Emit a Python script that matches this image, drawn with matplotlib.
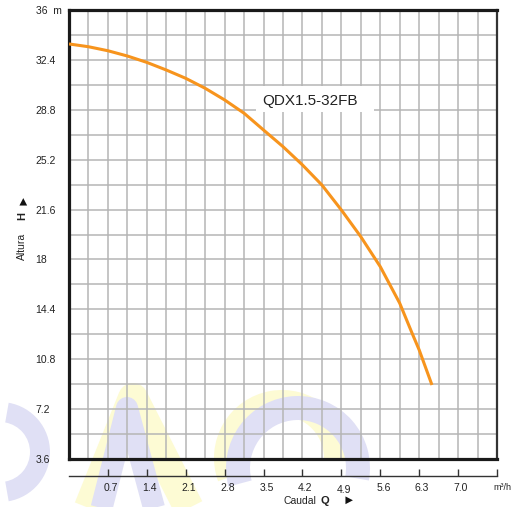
"""Pump curve QDX1.5-32FB, altura vs caudal."""
import matplotlib

matplotlib.use("Agg")
import matplotlib.pyplot as plt  # noqa: E402
import numpy as np  # noqa: E402
from matplotlib.lines import Line2D  # noqa: E402
from matplotlib.patches import Rectangle, Wedge  # noqa: E402
from matplotlib.transforms import IdentityTransform, ScaledTranslation  # noqa: E402


# curve (crossings of the vertical grid lines)
caudal = [0.0, 0.35, 0.70, 1.05, 1.40, 1.75, 2.10, 2.45, 2.80, 3.15, 3.50,
          3.85, 4.20, 4.55, 4.90, 5.25, 5.60, 5.95, 6.17, 6.30, 6.53]
altura = [33.55, 33.35, 33.06, 32.68, 32.22, 31.67, 31.07, 30.35, 29.51, 28.55, 27.34,
          26.14, 24.82, 23.37, 21.57, 19.64, 17.48, 14.84, 12.70, 11.47, 8.94]

model_name = "QDX1.5-32FB"
y_ticks = [3.6, 7.2, 10.8, 14.4, 18, 21.6, 25.2, 28.8, 32.4, 36]
y_labels = ["3.6", "7.2", "10.8", "14.4", "18", "21.6", "25.2", "28.8", "32.4", "36  m"]
x_ticks = [0.7, 1.4, 2.1, 2.8, 3.5, 4.2, 4.9, 5.6, 6.3, 7.0, 7.7]
x_labels = ["0.7", "1.4", "2.1", "2.8", "3.5", "4.2", "4.9", "5.6", "6.3", "7.0", "m³/h"]

FONT = ["Liberation Sans", "DejaVu Sans"]
plt.rcParams["font.family"] = FONT

W, H = 516, 507
fig = plt.figure(figsize=(W / 100, H / 100), dpi=100)


def fx(px):
    return px / W


def fy(py):
    return 1 - py / H


# faint logo watermark behind the chart, drawn in output pixels
BLUE_WM = "#e0e0f5"
YELLOW_WM = "#fdfbd4"
PIX = IdentityTransform()


def wm_stroke(points, color, width_px):
    xs = [p[0] for p in points]
    ys = [H - p[1] for p in points]
    fig.add_artist(Line2D(xs, ys, color=color, lw=width_px * 0.72, transform=PIX,
                          zorder=-2, solid_joinstyle="round", solid_capstyle="butt"))


def wm_arc(cx, cy, r, t1, t2, width_px, color):
    fig.add_artist(Wedge((cx, H - cy), r, t1, t2, width=width_px, color=color,
                         transform=PIX, zorder=-2, lw=0))


# A
wm_stroke([(80, 530), (133, 398), (200, 530)], YELLOW_WM, 30)
wm_stroke([(96, 530), (127, 408), (160, 530)], BLUE_WM, 22)
# S-like arc
wm_arc(282, 458, 68, 0, 200, 26, YELLOW_WM)
wm_arc(298, 468, 72, -10, 195, 24, BLUE_WM)
# R bowl at the left edge
wm_arc(0, 452, 50, -80, 80, 20, BLUE_WM)

ax = fig.add_axes([fx(69), fy(459), fx(497) - fx(69), fy(10) - fy(459)])
ax.set_facecolor("none")
ax.set_xlim(0, 7.7)
ax.set_ylim(3.6, 36)

# grid
for q in np.arange(0.35, 7.7, 0.35):
    ax.axvline(q, color="#b5b5b5", lw=1.1, zorder=1)
for h in np.arange(3.6 + 1.8, 36, 1.8):
    ax.axhline(h, color="#b5b5b5", lw=1.1, zorder=1)

# label box
ax.add_patch(Rectangle((3.36, 28.62), 2.12, 1.9, facecolor="white",
                       edgecolor="none", zorder=2))
ax.text(3.47, 29.45, model_name, fontsize=11, color="#222222",
        va="center", ha="left", zorder=3)

ax.plot(caudal, altura, color="#f7941d", lw=2.2, zorder=4,
        solid_capstyle="butt", solid_joinstyle="round")

for side in ("left", "bottom", "top"):
    ax.spines[side].set_linewidth(2.3)
    ax.spines[side].set_color("#1a1a1a")
ax.spines["right"].set_linewidth(1.6)
ax.spines["right"].set_color("#333333")

ax.set_xticks([])
ax.set_yticks(y_ticks)
ax.set_yticklabels(y_labels, fontsize=7.5, color="#222222")
ax.tick_params(axis="y", length=0, pad=24)
for lbl in ax.get_yticklabels():
    lbl.set_horizontalalignment("left")

# separate flow axis below the box
axq = fig.add_axes([fx(69), fy(476), fx(497) - fx(69), 0.0001])
axq.set_facecolor("none")
axq.set_xlim(0, 7.7)
axq.set_ylim(0, 1)
for side in ("left", "right", "top"):
    axq.spines[side].set_visible(False)
axq.spines["bottom"].set_linewidth(1.0)
axq.spines["bottom"].set_color("#333333")
axq.set_yticks([])
axq.set_xticks(x_ticks)
axq.set_xticklabels(x_labels, fontsize=7.5, color="#222222")
axq.tick_params(axis="x", direction="in", length=5, width=1.0, color="#333333", pad=5)
shift = ScaledTranslation(3 / 100, 0, fig.dpi_scale_trans)
for lbl in axq.get_xticklabels():
    if lbl.get_text() == "4.9":
        lbl.set_transform(lbl.get_transform() + ScaledTranslation(3 / 100, -2 / 100, fig.dpi_scale_trans))
    elif lbl.get_text() == "m³/h":
        lbl.set_fontsize(6.5)
        lbl.set_transform(lbl.get_transform() + ScaledTranslation(5 / 100, 0, fig.dpi_scale_trans))
    else:
        lbl.set_transform(lbl.get_transform() + shift)

# axis titles
fig.text(fx(22), fy(246), "Altura", rotation=90, fontsize=7.5, color="#222222",
         ha="center", va="center")
fig.text(fx(22), fy(216), "H", rotation=90, fontsize=8, fontweight="bold",
         color="#222222", ha="center", va="center")
fig.text(fx(22), fy(199), "►", rotation=90, fontsize=9, color="#111111",
         ha="center", va="center")

fig.text(fx(300), fy(501), "Caudal", fontsize=7.5, color="#222222",
         ha="center", va="center")
fig.text(fx(325), fy(501), "Q", fontsize=8, fontweight="bold", color="#222222",
         ha="center", va="center")
fig.text(fx(349), fy(501), "►", fontsize=9, color="#111111",
         ha="center", va="center")

fig.savefig("out.png", dpi=100)
